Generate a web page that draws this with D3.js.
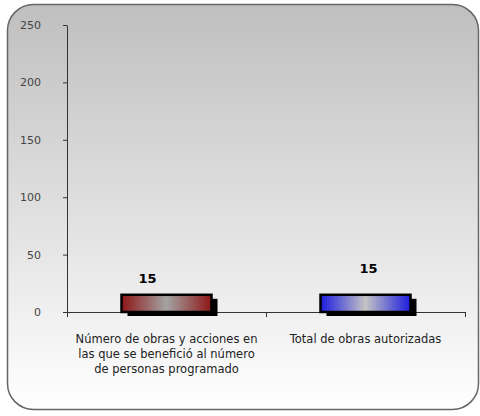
<!DOCTYPE html>
<html><head><meta charset="utf-8">
<script src="https://cdn.jsdelivr.net/npm/d3@7"></script>
<style>body{margin:0;background:#fff}svg{display:block}</style>
</head><body>
<script>
const categories = [["Número de obras y acciones en","las que se benefició al número","de personas programado"],["Total de obras autorizadas"]];
const values = [15, 15];
const yTicks = [0, 50, 100, 150, 200, 250];
const barColors = [["#8e1616","#a3a3a3"],["#1c1ce0","#c4c4c4"]];
const labelOffsets = [[-19, -12],[3, -22]];

const W = 480, H = 416;
const svg = d3.select("body").append("svg").attr("width", W).attr("height", H);
const defs = svg.append("defs");
const bg = defs.append("linearGradient").attr("id","bg").attr("x1",0).attr("y1",0).attr("x2",0).attr("y2",1);
bg.append("stop").attr("offset","0%").attr("stop-color","#bfbfbf");
bg.append("stop").attr("offset","100%").attr("stop-color","#ffffff");
barColors.forEach((c,i)=>{
  const g = defs.append("linearGradient").attr("id","bar"+i).attr("x1",0).attr("y1",0).attr("x2",1).attr("y2",0);
  g.append("stop").attr("offset","0%").attr("stop-color",c[0]);
  g.append("stop").attr("offset","50%").attr("stop-color",c[1]);
  g.append("stop").attr("offset","100%").attr("stop-color",c[0]);
});

svg.append("rect").attr("x",7.5).attr("y",4.5).attr("width",471).attr("height",405)
  .attr("rx",26).attr("fill","url(#bg)").attr("stroke","#666").attr("stroke-width",1.5);

const x0 = 67, x1 = 465, yTop = 25, yBot = 312;
const y = d3.scaleLinear().domain([0,250]).range([yBot,yTop]);
const x = d3.scaleBand().domain(d3.range(values.length)).range([x0,x1]);

// y axis
const ya = svg.append("g").attr("transform",`translate(${x0},0)`)
  .call(d3.axisLeft(y).tickValues(yTicks).tickSize(4).tickSizeOuter(0).tickPadding(22));
ya.select(".domain").attr("stroke","#333");
ya.selectAll(".tick line").attr("stroke","#333");
ya.selectAll("text").attr("font-family","'DejaVu Sans', Verdana, sans-serif").attr("font-size",11).attr("fill","#444");

// x axis
const xa = svg.append("g").attr("transform",`translate(0,${yBot})`)
  .call(d3.axisBottom(x).tickSize(0).tickFormat(""));
xa.select(".domain").attr("stroke","#333");
const bounds = [x0].concat(x.domain().map(d=>x(d)+x.bandwidth()));
svg.selectAll(".xt").data(bounds).enter().append("line")
  .attr("x1",d=>d+0.5).attr("x2",d=>d+0.5).attr("y1",yBot).attr("y2",yBot+5).attr("stroke","#333");

const bw = 90;
const bars = svg.selectAll(".bar").data(values).enter().append("g");
bars.append("rect").attr("x",(d,i)=>x(i)+x.bandwidth()/2-bw/2+6).attr("y",d=>y(d)+4)
  .attr("width",bw).attr("height",d=>yBot-y(d)).attr("fill","#000");
bars.append("rect").attr("x",(d,i)=>x(i)+x.bandwidth()/2-bw/2).attr("y",d=>y(d))
  .attr("width",bw).attr("height",d=>yBot-y(d)).attr("fill",(d,i)=>`url(#bar${i})`)
  .attr("stroke","#000").attr("stroke-width",2.5);
bars.append("text").attr("x",(d,i)=>x(i)+x.bandwidth()/2+labelOffsets[i][0])
  .attr("y",(d,i)=>y(d)+labelOffsets[i][1]).attr("text-anchor","middle")
  .attr("font-family","'DejaVu Sans', Verdana, sans-serif").attr("font-weight","bold")
  .attr("font-size",13).attr("fill","#000").text(d=>d);

const cl = svg.selectAll(".cat").data(categories).enter().append("text")
  .attr("text-anchor","middle").attr("font-family","'DejaVu Sans', Verdana, sans-serif")
  .attr("font-size",11.5).attr("fill","#222");
cl.each(function(lines,i){
  d3.select(this).selectAll("tspan").data(lines).enter().append("tspan")
    .attr("x",x(i)+x.bandwidth()/2).attr("y",(l,j)=>343+j*15).text(l=>l);
});
</script>
</body></html>
